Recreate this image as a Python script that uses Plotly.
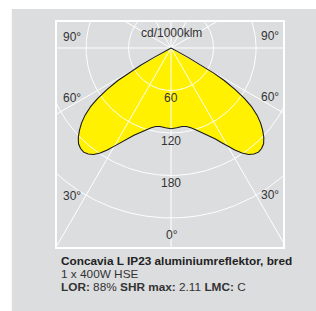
import numpy as np
import plotly.graph_objects as go

# ---- data (luminous intensity, cd/1000 lm; symmetric distribution) ----
theta_deg = [0, 4, 8, 11, 14, 17, 20, 23, 26, 28, 30, 32, 34, 36, 38, 40, 42, 44,
             46, 48, 50, 52, 54, 55.5, 57, 58.5, 59.5, 60.3, 61, 61.6, 62]
intensity = [114, 113, 112, 113, 116, 121, 127, 134, 143, 151, 160, 170, 179, 186,
             190, 192, 191, 188, 182, 174, 165, 154, 140, 126, 108, 88, 70, 50, 28, 10, 0]

grid_values = [60, 120, 180, 240]
radial_labels = ["60", "120", "180"]
spoke_angles = [0, 30, 60, 90, 120, 150, 180, 210, 240, 270, 300, 330]
angle_labels = ["90°", "60°", "30°", "0°"]
unit_label = "cd/1000klm"
title_line = "Concavia L IP23 aluminiumreflektor, bred"
lamp_line = "1 x 400W HSE"
info_line = "<b>LOR:</b> 88% <b>SHR max:</b> 2.11 <b>LMC:</b> C"

GRAY = "#DCDDDF"
YELLOW = "#FFF100"
TXT = "#333333"
FONT = "Liberation Sans"

th = np.radians(np.array(theta_deg))
I = np.array(intensity, dtype=float)
# 0 deg points down (nadir)
xr = I * np.sin(th)
yr = -I * np.cos(th)
xl = -xr[::-1]
yl = yr[::-1]
xs = np.concatenate([xl, xr])
ys = np.concatenate([yl, yr])

fig = go.Figure()

# filled intensity curve
fig.add_trace(go.Scatter(x=xs, y=ys, mode="lines", fill="toself", fillcolor=YELLOW,
                         line=dict(color="rgba(0,0,0,0)", width=0), hoverinfo="skip"))

# grid circles
phi = np.linspace(0, 2 * np.pi, 361)
for v in grid_values:
    fig.add_trace(go.Scatter(x=v * np.cos(phi), y=v * np.sin(phi), mode="lines",
                             line=dict(color="white", width=1), hoverinfo="skip"))
# spokes
for a in spoke_angles:
    ar = np.radians(a)
    fig.add_trace(go.Scatter(x=[0, 500 * np.sin(ar)], y=[0, -500 * np.cos(ar)], mode="lines",
                             line=dict(color="white", width=1), hoverinfo="skip"))

# outline
fig.add_trace(go.Scatter(x=xs, y=ys, mode="lines",
                         line=dict(color="#1a1a1a", width=1.1), hoverinfo="skip"))

annotations = []
# radial value labels
for v, t in zip(grid_values, radial_labels):
    annotations.append(dict(x=0, y=-(v + 11), xref="x", yref="y", text=t, showarrow=False,
                            font=dict(size=12, color=TXT, family=FONT)))
# angle labels (left and right)
ang_pos_y = [15.5, -70.6, -208.9]
for lab, yy in zip(angle_labels[:3], ang_pos_y):
    annotations.append(dict(x=-140.3, y=yy, xref="x", yref="y", text=lab, showarrow=False,
                            font=dict(size=12, color=TXT, family=FONT)))
    annotations.append(dict(x=139.3, y=yy + 0.8, xref="x", yref="y", text=lab, showarrow=False,
                            font=dict(size=12, color=TXT, family=FONT)))
annotations.append(dict(x=1, y=-264, xref="x", yref="y", text=angle_labels[3], showarrow=False,
                        font=dict(size=12, color=TXT, family=FONT)))
annotations.append(dict(x=0.5, y=20.5, xref="x", yref="y", text=unit_label, showarrow=False,
                        font=dict(size=12, color=TXT, family=FONT)))

# caption lines
annotations.append(dict(x=0.009, y=-0.062, xref="paper", yref="paper", xanchor="left",
                        yanchor="middle", text="<b>" + title_line + "</b>", showarrow=False,
                        font=dict(size=11.8, color="#222222", family=FONT)))
annotations.append(dict(x=0.009, y=-0.122, xref="paper", yref="paper", xanchor="left",
                        yanchor="middle", text=lamp_line, showarrow=False,
                        font=dict(size=11.8, color=TXT, family=FONT)))
annotations.append(dict(x=0.009, y=-0.176, xref="paper", yref="paper", xanchor="left",
                        yanchor="middle", text=info_line, showarrow=False,
                        font=dict(size=11.8, color=TXT, family=FONT)))

fig.update_layout(
    width=316, height=311,
    margin=dict(l=57, r=33, t=22, b=64),
    paper_bgcolor="white",
    plot_bgcolor=GRAY,
    showlegend=False,
    annotations=annotations,
    shapes=[dict(type="rect", xref="paper", yref="paper", x0=-0.2, x1=1.2, y0=-0.29, y1=1.058,
                 fillcolor=GRAY, line=dict(width=0), layer="below")],
    xaxis=dict(range=[-161, 158], showgrid=False, zeroline=False, showticklabels=False,
               ticks="", showline=True, mirror=True, linecolor="white", linewidth=1.5,
               fixedrange=True),
    yaxis=dict(range=[-281, 36.7], showgrid=False, zeroline=False, showticklabels=False,
               ticks="", showline=True, mirror=True, linecolor="white", linewidth=1.5,
               fixedrange=True),
)

fig.write_html("out.html", config={"displayModeBar": False},
               post_script="document.body.style.margin='0';document.body.style.overflow='hidden';")
